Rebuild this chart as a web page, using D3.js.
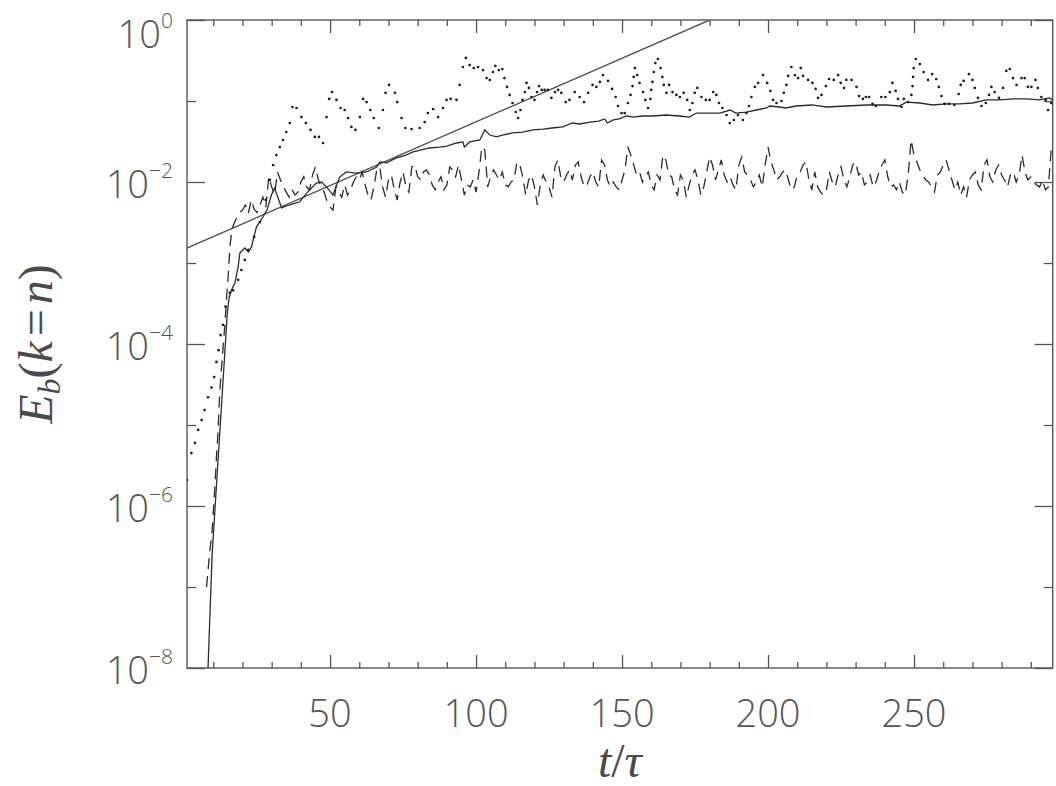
<!DOCTYPE html>
<html>
<head>
<meta charset="utf-8">
<script src="https://cdn.jsdelivr.net/npm/d3@7"></script>
<style>
body { margin: 0; background: #fff; }
</style>
</head>
<body>
<div id="chart"></div>
<script>
// axis ticks
const xMajorTicks = [50, 100, 150, 200, 250];
const xMinorTicks = [10, 20, 30, 40, 60, 70, 80, 90, 110, 120, 130, 140, 160, 170, 180, 190,
  210, 220, 230, 240, 260, 270, 280, 290];
const yMajorTicks = [1, 1e-2, 1e-4, 1e-6, 1e-8];
const yTickExponents = ["0", "\u22122", "\u22124", "\u22126", "\u22128"];
const yMinorTicks = [1e-1, 1e-3, 1e-5, 1e-7];

// straight growth fit
const fitT = [1, 180];
const fitE = [1.53e-3, 1];

// solid curve
const solidT = [8.2, 9.6, 14.8, 15.4, 16.2, 17.4, 18.5, 19.1, 20.8, 22, 23.1, 23.9, 24.8, 25.9, 27, 28.4,
  29.9, 31, 33.4, 36, 39.6, 42, 45.3, 47, 48.8, 51, 53.3, 55.6, 59, 62.5, 66, 67, 69.3, 72.7, 76,
  78.4, 81, 84, 87.5, 90, 93.3, 95.5, 96, 97.8, 101.3, 103, 104.7, 107, 109, 112.6, 116, 119.5,
  123, 126, 129.7, 133, 135.5, 139, 142, 144, 145, 147, 149, 151.5, 154, 157, 160.5, 165, 169.7,
  173, 175.5, 179, 183.5, 187, 189, 192.6, 196, 199.5, 200.5, 204, 206, 209.7, 215, 220, 226.8,
  233.7, 240.5, 245, 247.4, 252, 256.4, 261, 265.6, 270, 274.8, 279.4, 284, 288.5, 293, 296.5, 297.4];
const solidE = [1e-8, 2.5e-7, 2.4e-4, 3.7e-4, 4.6e-4, 5.7e-4, 8.9e-4, 1.33e-3, 1.53e-3, 1.37e-3,
  1.58e-3, 2.1e-3, 2.8e-3, 3.2e-3, 3.7e-3, 4.5e-3, 6.9e-3, 8.4e-3, 4.8e-3, 5.2e-3, 5.7e-3, 7.3e-3,
  9.7e-3, 1.0e-2, 8.7e-3, 6.9e-3, 1.15e-2, 1.33e-2, 1.29e-2, 1.33e-2, 1.53e-2, 1.77e-2, 1.72e-2,
  1.98e-2, 2.15e-2, 2.35e-2, 2.48e-2, 2.63e-2, 2.7e-2, 2.78e-2, 3.03e-2, 3.12e-2, 2.7e-2, 3.12e-2,
  3.3e-2, 4.4e-2, 3.8e-2, 3.6e-2, 3.8e-2, 4.03e-2, 4.14e-2, 4.4e-2, 4.5e-2, 4.64e-2, 4.78e-2,
  5.35e-2, 5.2e-2, 5.5e-2, 5.66e-2, 6.0e-2, 5.35e-2, 5.83e-2, 6.0e-2, 6.53e-2, 6.34e-2, 6.53e-2,
  6.53e-2, 6.72e-2, 6.53e-2, 6.34e-2, 7.1e-2, 7.1e-2, 7.1e-2, 7.74e-2, 7.1e-2, 7.31e-2, 7.74e-2,
  8.2e-2, 8.67e-2, 8.43e-2, 8.2e-2, 8.67e-2, 8.93e-2, 8.43e-2, 8.67e-2, 8.93e-2, 8.93e-2, 8.67e-2,
  9.7e-2, 9.45e-2, 8.93e-2, 9.2e-2, 9.2e-2, 9.45e-2, 0.103, 0.103, 0.106, 0.106, 0.103, 0.109, 0.103];

// dotted curve (one dot per sample)
const dotT = [1.0, 2.5, 3.7, 4.8, 6, 7, 8.2, 9.4, 10.3, 11.1, 11.8, 12.5, 13.3, 14.2, 15.7, 16.8,
  18.5, 19.6, 20.8, 22, 24, 26, 28, 29.4, 30.5, 31.6, 32.8, 33.9, 35, 36.2, 37.1, 38.5, 40.2, 41.7,
  43.3, 44.8, 46.2, 47.6, 48.8, 49.7, 50.7, 52.2, 53.6, 55, 56.2, 57.3, 58.7, 60.2, 61.3, 62.5,
  63.8, 65, 66.7, 68.1, 69, 70.2, 72.2, 73, 74.5, 75.8, 77.9, 80.7, 82.4, 83.5, 85.3, 87, 88.7,
  89.9, 91.3, 93.3, 94.4, 95.5, 96.5, 97.8, 99.2, 100.7, 102.4, 103.6, 104.7, 105.8, 106.6, 107.8,
  109, 109.7, 110.6, 111.5, 112.5, 113.6, 114.4, 115.2, 115.9, 116.7, 117.3, 118.1, 119, 120,
  120.9, 121.6, 122.5, 123.5, 124.6, 125.8, 127, 128.1, 129.2, 130.7, 132, 133.8, 135.5, 137,
  138.4, 139.9, 141.2, 142.4, 143.5, 145.2, 146.6, 147.8, 148.6, 149.8, 150.9, 152, 152.9, 153.6,
  154, 154.4, 155.2, 156, 157.2, 158, 158.9, 159.7, 160, 160.4, 160.9, 161.4, 162.3, 163.2, 163.8,
  164.3, 165.2, 166.1, 167.3, 168.6, 169.8, 171.1, 172.3, 173.2, 174.1, 174.9, 175.8, 177.2,
  178.7, 180, 181.2, 182.3, 183.2, 184.4, 185.8, 186.9, 188.3, 189.7, 191.4, 192.6, 193.5, 194.3,
  195.5, 196.6, 198.3, 199.7, 200.8, 201.7, 202.9, 204.6, 205.4, 206.3, 206.9, 208, 209.2, 210.3,
  211.2, 212, 213.7, 215.2, 216.3, 217.1, 218.3, 219.8, 220.9, 222.5, 224, 224.9, 226, 226.8,
  228.6, 230.3, 231.2, 232.5, 233.5, 234.6, 235.8, 236.9, 238.8, 240.2, 241.7, 242.6, 243.7,
  244.5, 245.7, 246.5, 248, 249.1, 249.5, 249.7, 249.9, 250.6, 252, 253.3, 254.8, 256.2, 257.6,
  258.5, 259.4, 260.4, 261.9, 263.8, 265.3, 266, 267, 268.8, 270, 270.8, 271.9, 273.1, 274.6,
  275.7, 276.5, 277.6, 279.1, 280.5, 281.6, 282.8, 283.9, 285.1, 286.8, 287.9, 289, 290.2, 291.6,
  292.4, 293.6, 295.1, 295.9, 297];
const dotE = [2.09e-6, 4.5e-6, 6.0e-6, 8.7e-6, 1.15e-5, 1.53e-5, 2.2e-5, 2.9e-5, 3.9e-5, 6.0e-5,
  8.4e-5, 1.29e-4, 1.72e-4, 2.9e-4, 4.3e-4, 4.6e-4, 6.2e-4, 8.2e-4, 1.09e-3, 1.45e-3, 2.1e-3,
  3.2e-3, 6.0e-3, 1.06e-2, 1.62e-2, 2.15e-2, 2.7e-2, 3.3e-2, 4.14e-2, 5.35e-2, 8.43e-2, 8.2e-2,
  6.34e-2, 5.35e-2, 4.39e-2, 3.6e-2, 3.6e-2, 3.03e-2, 6.34e-2, 0.106, 0.129, 0.103, 8.2e-2,
  7.74e-2, 6.17e-2, 4.78e-2, 4.39e-2, 6.34e-2, 0.106, 9.7e-2, 7.74e-2, 6.17e-2, 4.64e-2, 7.74e-2,
  0.126, 0.158, 0.126, 9.7e-2, 6.17e-2, 4.64e-2, 4.5e-2, 4.64e-2, 5.5e-2, 7.1e-2, 7.96e-2,
  6.34e-2, 8.2e-2, 0.103, 0.106, 0.103, 0.158, 0.263, 0.340, 0.278, 0.255, 0.263, 0.241, 0.192,
  0.182, 0.228, 0.271, 0.241, 0.248, 0.192, 0.149, 0.119, 9.45e-2, 7.31e-2, 6.17e-2, 7.74e-2,
  0.103, 0.129, 0.167, 0.145, 0.112, 0.103, 0.129, 0.153, 0.137, 0.137, 0.137, 0.109, 0.129,
  0.137, 0.126, 9.7e-2, 0.103, 0.129, 0.112, 9.7e-2, 0.126, 0.158, 0.149, 0.172, 0.209, 0.177,
  0.141, 0.112, 8.67e-2, 7.1e-2, 7.1e-2, 9.45e-2, 0.119, 0.153, 0.198, 0.255, 0.209, 0.167,
  0.129, 0.103, 8.2e-2, 0.106, 0.137, 0.172, 0.228, 0.294, 0.330, 0.255, 0.198, 0.158, 0.126,
  0.158, 0.129, 0.119, 0.112, 0.126, 0.103, 7.74e-2, 9.45e-2, 0.126, 0.145, 0.112, 0.103, 0.103,
  0.129, 0.119, 9.45e-2, 8.2e-2, 6.72e-2, 5.35e-2, 5.83e-2, 6.72e-2, 5.83e-2, 7.1e-2, 8.67e-2,
  0.112, 0.149, 0.167, 0.209, 0.167, 0.133, 0.103, 9.45e-2, 0.1, 0.126, 0.158, 0.204, 0.263,
  0.209, 0.192, 0.255, 0.204, 0.182, 0.167, 0.141, 0.109, 0.119, 0.153, 0.187, 0.182, 0.209,
  0.167, 0.145, 0.182, 0.182, 0.149, 0.115, 0.106, 0.112, 0.112, 9.2e-2, 8.67e-2, 0.112, 0.112,
  0.129, 0.167, 0.133, 0.106, 8.43e-2, 0.106, 9.7e-2, 0.119, 0.153, 0.198, 0.255, 0.330, 0.286,
  0.228, 0.182, 0.215, 0.187, 0.149, 0.115, 9.2e-2, 9.2e-2, 8.93e-2, 0.122, 0.158, 0.177, 0.215,
  0.182, 0.145, 0.109, 8.67e-2, 9.45e-2, 0.119, 0.149, 0.129, 0.109, 0.145, 0.235, 0.248, 0.192,
  0.158, 0.192, 0.192, 0.149, 0.149, 0.182, 0.145, 0.112, 0.103, 7.74e-2, 9.45e-2];

// dashed curve: steep rise, then one value per unit of t from t = 17
const dashRiseT = [7.7, 8.6, 9.6, 10.5, 11.1, 11.6, 12.2, 13.0, 13.9, 14.5, 15.1, 15.7, 16.4];
const dashRiseE = [1.0e-7, 2.3e-7, 5.0e-7, 1.6e-6, 4.1e-6, 7.9e-6, 2.5e-5, 6.3e-5, 1.6e-4,
  3.5e-4, 6.8e-4, 1.6e-3, 2.6e-3];
const dashT0 = 17;
const dashE = [
  0.0030, 0.0036, 0.0042, 0.0045, 0.0052, 0.0041, 0.0060, 0.0046, 0.0042, 0.0052,
  0.0065, 0.0049, 0.0116, 0.0087, 0.0070, 0.0133, 0.0106, 0.0087, 0.0075, 0.0065,
  0.0080, 0.0069, 0.0075, 0.0100, 0.0116, 0.0087, 0.0080, 0.0122, 0.0154, 0.0106,
  0.0087, 0.0075, 0.0057, 0.0049, 0.0045, 0.0087, 0.0075, 0.0065, 0.0092, 0.0069,
  0.0080, 0.0100, 0.0116, 0.0106, 0.0133, 0.0092, 0.0069, 0.0060, 0.0087, 0.0141,
  0.0154, 0.0087, 0.0065, 0.0106, 0.0122, 0.0080, 0.0060, 0.0100, 0.0133, 0.0087,
  0.0075, 0.0154, 0.0162, 0.0116, 0.0106, 0.0133, 0.0141, 0.0122, 0.0092, 0.0080,
  0.0100, 0.0116, 0.0080, 0.0092, 0.0154, 0.0141, 0.0116, 0.0162, 0.0106, 0.0069,
  0.0092, 0.0087, 0.0106, 0.0075, 0.0133, 0.0271, 0.0248, 0.0087, 0.0116, 0.0141,
  0.0122, 0.0106, 0.0133, 0.0092, 0.0087, 0.0100, 0.0106, 0.0177, 0.0162, 0.0116,
  0.0069, 0.0106, 0.0122, 0.0087, 0.0052, 0.0092, 0.0122, 0.0100, 0.0087, 0.0065,
  0.0154, 0.0187, 0.0116, 0.0100, 0.0122, 0.0141, 0.0106, 0.0162, 0.0177, 0.0116,
  0.0087, 0.0092, 0.0116, 0.0133, 0.0100, 0.0087, 0.0187, 0.0162, 0.0106, 0.0087,
  0.0100, 0.0087, 0.0080, 0.0106, 0.0141, 0.0271, 0.0215, 0.0162, 0.0122, 0.0133,
  0.0100, 0.0116, 0.0133, 0.0092, 0.0080, 0.0122, 0.0106, 0.0215, 0.0187, 0.0122,
  0.0116, 0.0080, 0.0069, 0.0122, 0.0106, 0.0065, 0.0092, 0.0122, 0.0141, 0.0106,
  0.0069, 0.0087, 0.0133, 0.0204, 0.0162, 0.0106, 0.0141, 0.0187, 0.0122, 0.0100,
  0.0116, 0.0092, 0.0080, 0.0162, 0.0204, 0.0133, 0.0122, 0.0106, 0.0087, 0.0100,
  0.0122, 0.0087, 0.0162, 0.0271, 0.0177, 0.0141, 0.0106, 0.0116, 0.0133, 0.0141,
  0.0106, 0.0080, 0.0087, 0.0122, 0.0133, 0.0162, 0.0177, 0.0106, 0.0080, 0.0133,
  0.0087, 0.0075, 0.0069, 0.0080, 0.0133, 0.0100, 0.0087, 0.0122, 0.0154, 0.0106,
  0.0087, 0.0116, 0.0162, 0.0177, 0.0122, 0.0133, 0.0092, 0.0100, 0.0122, 0.0087,
  0.0100, 0.0133, 0.0162, 0.0187, 0.0116, 0.0087, 0.0092, 0.0080, 0.0100, 0.0075,
  0.0069, 0.0122, 0.0330, 0.0215, 0.0177, 0.0141, 0.0122, 0.0106, 0.0100, 0.0087,
  0.0075, 0.0122, 0.0133, 0.0162, 0.0187, 0.0141, 0.0106, 0.0080, 0.0100, 0.0069,
  0.0087, 0.0065, 0.0106, 0.0122, 0.0133, 0.0092, 0.0080, 0.0162, 0.0187, 0.0116,
  0.0100, 0.0141, 0.0162, 0.0122, 0.0106, 0.0087, 0.0122, 0.0133, 0.0100, 0.0122,
  0.0215, 0.0133, 0.0106, 0.0116, 0.0100, 0.0092, 0.0087, 0.0106, 0.0080, 0.0087,
  0.0254];

//set up the dimensions of the chart
const margin = { top: 20, right: 3.3, bottom: 118, left: 187 };
const width = 1056 - margin.left - margin.right;
const height = 786 - margin.top - margin.bottom;

const svg = d3.select("#chart")
  .append("svg")
  .attr("width", 1056)
  .attr("height", 786)
  .append("g")
  .attr("transform", "translate(" + margin.left + "," + margin.top + ")");

const x = d3.scaleLinear().domain([1, 297.5]).range([0, width]);
const y = d3.scaleLog().domain([1e-8, 1]).range([height, 0]);

svg.append("clipPath").attr("id", "plot-clip")
  .append("rect").attr("width", width).attr("height", height);

const axisColor = "#555";
const ink = "#2b2b2b";

// ticks on all four sides, pointing inward
function ticks(axis, vals, size, tr) {
  const g = svg.append("g")
    .attr("transform", tr || null)
    .call(axis.tickValues(vals).tickSize(size).tickFormat(""));
  g.select(".domain").remove();
  g.selectAll("line").attr("stroke", axisColor).attr("stroke-width", 1.3);
}
ticks(d3.axisBottom(x), xMinorTicks, -6, "translate(0," + height + ")");
ticks(d3.axisBottom(x), xMajorTicks, -13, "translate(0," + height + ")");
ticks(d3.axisTop(x), xMinorTicks, -6);
ticks(d3.axisTop(x), xMajorTicks, -13);
ticks(d3.axisLeft(y), yMinorTicks, -9);
ticks(d3.axisLeft(y), yMajorTicks, -18);
ticks(d3.axisRight(y), yMinorTicks, -9, "translate(" + width + ",0)");
ticks(d3.axisRight(y), yMajorTicks, -18, "translate(" + width + ",0)");

svg.append("rect")
  .attr("width", width).attr("height", height)
  .attr("fill", "none").attr("stroke", axisColor).attr("stroke-width", 1.4);

// tick labels
const labelFont = "'Open Sans', Lato, sans-serif";
const labelInk = "#555";
svg.selectAll(".xlab")
  .data(xMajorTicks)
  .enter().append("text")
  .attr("class", "xlab")
  .attr("x", d => x(d))
  .attr("y", height + 59)
  .attr("text-anchor", "middle")
  .style("font-family", labelFont)
  .style("font-weight", 300)
  .style("font-size", "38px")
  .style("fill", labelInk)
  .text(d => d);

const ylab = svg.selectAll(".ylab")
  .data(yMajorTicks)
  .enter().append("text")
  .attr("class", "ylab")
  .attr("x", -14)
  .attr("y", d => Math.max(y(d) + 16, 28))
  .attr("text-anchor", "end")
  .style("font-family", labelFont)
  .style("font-weight", 300)
  .style("fill", labelInk);
ylab.append("tspan").style("font-size", "38px").text("10");
ylab.append("tspan").style("font-size", "21px").attr("dy", -20)
  .text((d, i) => yTickExponents[i]);

// axis titles
const titleFont = "'Liberation Serif', 'Times New Roman', serif";
const titleInk = "#4a4a4a";
const xt = svg.append("text")
  .attr("x", width / 2).attr("y", height + 109)
  .attr("text-anchor", "middle")
  .style("font-family", titleFont).style("font-size", "48px").style("fill", titleInk);
xt.append("tspan").style("font-style", "italic").text("t");
xt.append("tspan").text("/");
xt.append("tspan").style("font-style", "italic").text("\u03c4");

const yt = svg.append("text")
  .attr("transform", "translate(" + (52 - margin.left) + "," + (height / 2) + ") rotate(-90)")
  .attr("text-anchor", "middle")
  .style("font-family", titleFont).style("font-size", "48px").style("fill", titleInk);
yt.append("tspan").style("font-style", "italic").text("E");
yt.append("tspan").style("font-style", "italic").style("font-size", "32px").attr("dy", 8).text("b");
yt.append("tspan").attr("dy", -8).text("(");
yt.append("tspan").style("font-style", "italic").text("k");
yt.append("tspan").attr("dx", 5).text("=");
yt.append("tspan").attr("dx", 5).style("font-style", "italic").text("n");
yt.append("tspan").text(")");

// data layers
const plot = svg.append("g").attr("clip-path", "url(#plot-clip)");
const line = d3.line().x(d => x(d[0])).y(d => y(d[1]));

plot.append("path")
  .datum(d3.zip(fitT, fitE))
  .attr("d", line)
  .attr("fill", "none").attr("stroke", "#555").attr("stroke-width", 1.4);

plot.append("path")
  .datum(d3.zip(solidT, solidE))
  .attr("d", line)
  .attr("fill", "none").attr("stroke", ink).attr("stroke-width", 1.3);

const dashPts = d3.zip(dashRiseT, dashRiseE)
  .concat(dashE.map((v, i) => [dashT0 + i, v]));
plot.append("path")
  .datum(dashPts)
  .attr("d", line)
  .attr("fill", "none").attr("stroke", ink).attr("stroke-width", 1.3)
  .attr("stroke-dasharray", "11,7");

plot.selectAll(".dot")
  .data(d3.zip(dotT, dotE))
  .enter().append("circle")
  .attr("class", "dot")
  .attr("cx", d => x(d[0]))
  .attr("cy", d => y(d[1]))
  .attr("r", 1.35)
  .style("fill", "#1e1e1e");
</script>
</body>
</html>
